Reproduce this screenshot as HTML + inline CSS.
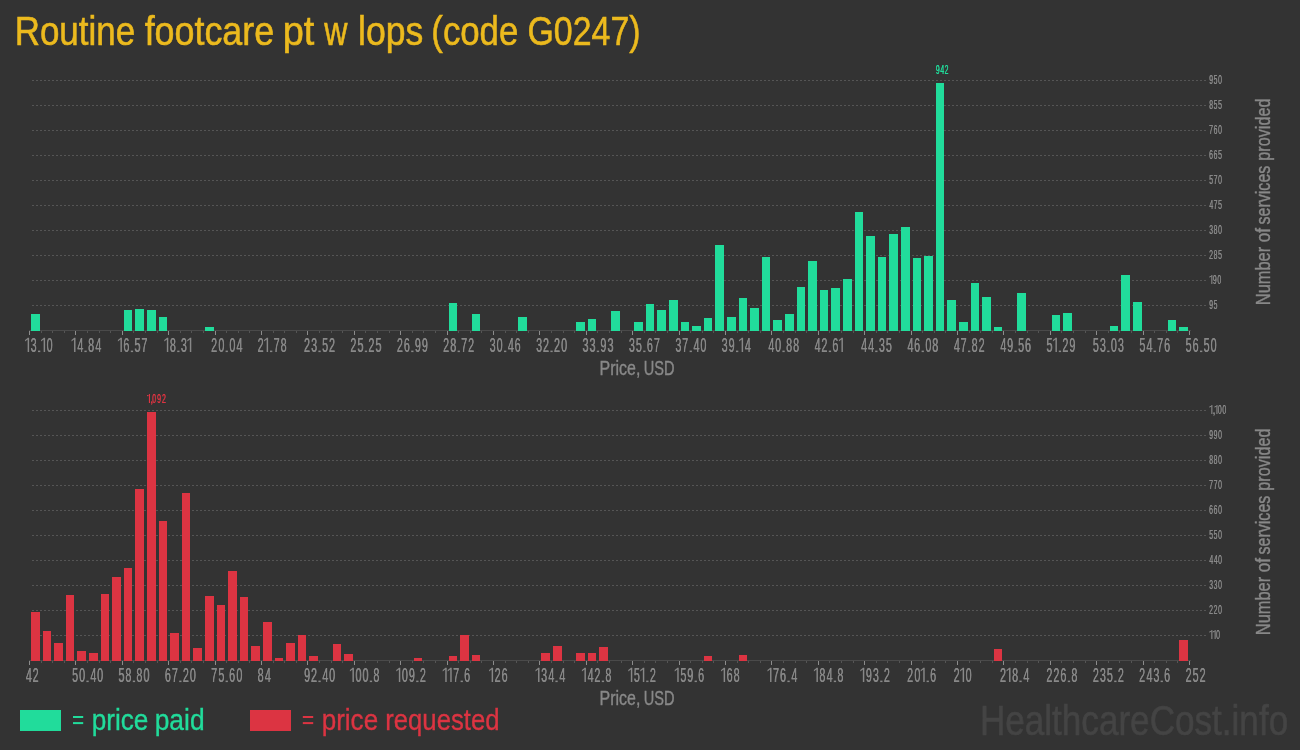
<!DOCTYPE html>
<html><head><meta charset="utf-8"><style>
html,body{margin:0;padding:0;background:#333333;width:1300px;height:750px;overflow:hidden}
svg{display:block;will-change:transform}
text{font-family:"Liberation Sans",sans-serif}
</style></head><body>
<svg width="1300" height="750" viewBox="0 0 1300 750">
<rect width="1300" height="750" fill="#333333"/>
<text x="14.70" y="45" font-size="41.5" fill="#ECBA1E" textLength="120.46" lengthAdjust="spacingAndGlyphs" stroke="#ECBA1E" stroke-width="0.6">Routine</text><text x="144.66" y="45" font-size="41.5" fill="#ECBA1E" textLength="129.39" lengthAdjust="spacingAndGlyphs" stroke="#ECBA1E" stroke-width="0.6">footcare</text><text x="282.74" y="45" font-size="41.5" fill="#ECBA1E" textLength="31.60" lengthAdjust="spacingAndGlyphs" stroke="#ECBA1E" stroke-width="0.6">pt</text><text x="324.30" y="45" font-size="41.5" fill="#ECBA1E" textLength="23.21" lengthAdjust="spacingAndGlyphs" stroke="#ECBA1E" stroke-width="0.6">w</text><text x="357.99" y="45" font-size="41.5" fill="#ECBA1E" textLength="65.24" lengthAdjust="spacingAndGlyphs" stroke="#ECBA1E" stroke-width="0.6">lops</text><text x="431.31" y="45" font-size="41.5" fill="#ECBA1E" textLength="87.00" lengthAdjust="spacingAndGlyphs" stroke="#ECBA1E" stroke-width="0.6">(code</text><text x="527.51" y="45" font-size="41.5" fill="#ECBA1E" textLength="113.04" lengthAdjust="spacingAndGlyphs" stroke="#ECBA1E" stroke-width="0.6">G0247)</text>
<line x1="32" y1="80.5" x2="1206" y2="80.5" stroke="#555" stroke-width="1" stroke-dasharray="2 2"/>
<line x1="32" y1="105.5" x2="1206" y2="105.5" stroke="#555" stroke-width="1" stroke-dasharray="2 2"/>
<line x1="32" y1="130.5" x2="1206" y2="130.5" stroke="#555" stroke-width="1" stroke-dasharray="2 2"/>
<line x1="32" y1="155.5" x2="1206" y2="155.5" stroke="#555" stroke-width="1" stroke-dasharray="2 2"/>
<line x1="32" y1="180.5" x2="1206" y2="180.5" stroke="#555" stroke-width="1" stroke-dasharray="2 2"/>
<line x1="32" y1="205.5" x2="1206" y2="205.5" stroke="#555" stroke-width="1" stroke-dasharray="2 2"/>
<line x1="32" y1="230.5" x2="1206" y2="230.5" stroke="#555" stroke-width="1" stroke-dasharray="2 2"/>
<line x1="32" y1="255.5" x2="1206" y2="255.5" stroke="#555" stroke-width="1" stroke-dasharray="2 2"/>
<line x1="32" y1="280.5" x2="1206" y2="280.5" stroke="#555" stroke-width="1" stroke-dasharray="2 2"/>
<line x1="32" y1="305.5" x2="1206" y2="305.5" stroke="#555" stroke-width="1" stroke-dasharray="2 2"/>
<text transform="translate(1209.09 84.1) scale(0.53 1)" font-size="13.0" fill="#888888">9</text><text transform="translate(1209.39 84.1) scale(0.53 1)" font-size="13.0" fill="#888888">9</text><text transform="translate(1213.57 84.1) scale(0.53 1)" font-size="13.0" fill="#888888">5</text><text transform="translate(1213.87 84.1) scale(0.53 1)" font-size="13.0" fill="#888888">5</text><text transform="translate(1218.02 84.1) scale(0.53 1)" font-size="13.0" fill="#888888">0</text><text transform="translate(1218.32 84.1) scale(0.53 1)" font-size="13.0" fill="#888888">0</text>
<text transform="translate(1209.09 109.1) scale(0.53 1)" font-size="13.0" fill="#888888">8</text><text transform="translate(1209.39 109.1) scale(0.53 1)" font-size="13.0" fill="#888888">8</text><text transform="translate(1213.57 109.1) scale(0.53 1)" font-size="13.0" fill="#888888">5</text><text transform="translate(1213.87 109.1) scale(0.53 1)" font-size="13.0" fill="#888888">5</text><text transform="translate(1218.02 109.1) scale(0.53 1)" font-size="13.0" fill="#888888">5</text><text transform="translate(1218.32 109.1) scale(0.53 1)" font-size="13.0" fill="#888888">5</text>
<text transform="translate(1209.06 134.1) scale(0.53 1)" font-size="13.0" fill="#888888">7</text><text transform="translate(1209.36 134.1) scale(0.53 1)" font-size="13.0" fill="#888888">7</text><text transform="translate(1213.51 134.1) scale(0.53 1)" font-size="13.0" fill="#888888">6</text><text transform="translate(1213.81 134.1) scale(0.53 1)" font-size="13.0" fill="#888888">6</text><text transform="translate(1218.02 134.1) scale(0.53 1)" font-size="13.0" fill="#888888">0</text><text transform="translate(1218.32 134.1) scale(0.53 1)" font-size="13.0" fill="#888888">0</text>
<text transform="translate(1209.06 159.1) scale(0.53 1)" font-size="13.0" fill="#888888">6</text><text transform="translate(1209.36 159.1) scale(0.53 1)" font-size="13.0" fill="#888888">6</text><text transform="translate(1213.51 159.1) scale(0.53 1)" font-size="13.0" fill="#888888">6</text><text transform="translate(1213.81 159.1) scale(0.53 1)" font-size="13.0" fill="#888888">6</text><text transform="translate(1218.02 159.1) scale(0.53 1)" font-size="13.0" fill="#888888">5</text><text transform="translate(1218.32 159.1) scale(0.53 1)" font-size="13.0" fill="#888888">5</text>
<text transform="translate(1209.12 184.1) scale(0.53 1)" font-size="13.0" fill="#888888">5</text><text transform="translate(1209.42 184.1) scale(0.53 1)" font-size="13.0" fill="#888888">5</text><text transform="translate(1213.51 184.1) scale(0.53 1)" font-size="13.0" fill="#888888">7</text><text transform="translate(1213.81 184.1) scale(0.53 1)" font-size="13.0" fill="#888888">7</text><text transform="translate(1218.02 184.1) scale(0.53 1)" font-size="13.0" fill="#888888">0</text><text transform="translate(1218.32 184.1) scale(0.53 1)" font-size="13.0" fill="#888888">0</text>
<text transform="translate(1209.23 209.1) scale(0.53 1)" font-size="13.0" fill="#888888">4</text><text transform="translate(1209.53 209.1) scale(0.53 1)" font-size="13.0" fill="#888888">4</text><text transform="translate(1213.51 209.1) scale(0.53 1)" font-size="13.0" fill="#888888">7</text><text transform="translate(1213.81 209.1) scale(0.53 1)" font-size="13.0" fill="#888888">7</text><text transform="translate(1218.02 209.1) scale(0.53 1)" font-size="13.0" fill="#888888">5</text><text transform="translate(1218.32 209.1) scale(0.53 1)" font-size="13.0" fill="#888888">5</text>
<text transform="translate(1209.12 234.1) scale(0.53 1)" font-size="13.0" fill="#888888">3</text><text transform="translate(1209.42 234.1) scale(0.53 1)" font-size="13.0" fill="#888888">3</text><text transform="translate(1213.54 234.1) scale(0.53 1)" font-size="13.0" fill="#888888">8</text><text transform="translate(1213.84 234.1) scale(0.53 1)" font-size="13.0" fill="#888888">8</text><text transform="translate(1218.02 234.1) scale(0.53 1)" font-size="13.0" fill="#888888">0</text><text transform="translate(1218.32 234.1) scale(0.53 1)" font-size="13.0" fill="#888888">0</text>
<text transform="translate(1209.06 259.1) scale(0.53 1)" font-size="13.0" fill="#888888">2</text><text transform="translate(1209.36 259.1) scale(0.53 1)" font-size="13.0" fill="#888888">2</text><text transform="translate(1213.54 259.1) scale(0.53 1)" font-size="13.0" fill="#888888">8</text><text transform="translate(1213.84 259.1) scale(0.53 1)" font-size="13.0" fill="#888888">8</text><text transform="translate(1218.02 259.1) scale(0.53 1)" font-size="13.0" fill="#888888">5</text><text transform="translate(1218.32 259.1) scale(0.53 1)" font-size="13.0" fill="#888888">5</text>
<path d="M1211.30 275.10H1212.40V284.1H1211.30ZM1209.40 276.50L1211.60 275.10V276.30L1209.40 277.70Z" fill="#888888"/><text transform="translate(1212.69 284.1) scale(0.53 1)" font-size="13.0" fill="#888888">9</text><text transform="translate(1212.99 284.1) scale(0.53 1)" font-size="13.0" fill="#888888">9</text><text transform="translate(1217.17 284.1) scale(0.53 1)" font-size="13.0" fill="#888888">0</text><text transform="translate(1217.47 284.1) scale(0.53 1)" font-size="13.0" fill="#888888">0</text>
<text transform="translate(1209.09 309.1) scale(0.53 1)" font-size="13.0" fill="#888888">9</text><text transform="translate(1209.39 309.1) scale(0.53 1)" font-size="13.0" fill="#888888">9</text><text transform="translate(1213.57 309.1) scale(0.53 1)" font-size="13.0" fill="#888888">5</text><text transform="translate(1213.87 309.1) scale(0.53 1)" font-size="13.0" fill="#888888">5</text>
<rect x="29" y="330" width="1162" height="1" fill="#4a4a4a"/>
<rect x="29" y="331" width="1" height="4" fill="#8c8c8c"/>
<rect x="41" y="331" width="1" height="2" fill="#555"/>
<rect x="52" y="331" width="1" height="2" fill="#555"/>
<rect x="64" y="331" width="1" height="2" fill="#555"/>
<rect x="75" y="331" width="1" height="4" fill="#8c8c8c"/>
<rect x="87" y="331" width="1" height="2" fill="#555"/>
<rect x="99" y="331" width="1" height="2" fill="#555"/>
<rect x="110" y="331" width="1" height="2" fill="#555"/>
<rect x="122" y="331" width="1" height="4" fill="#8c8c8c"/>
<rect x="133" y="331" width="1" height="2" fill="#555"/>
<rect x="145" y="331" width="1" height="2" fill="#555"/>
<rect x="157" y="331" width="1" height="2" fill="#555"/>
<rect x="168" y="331" width="1" height="4" fill="#8c8c8c"/>
<rect x="180" y="331" width="1" height="2" fill="#555"/>
<rect x="191" y="331" width="1" height="2" fill="#555"/>
<rect x="203" y="331" width="1" height="2" fill="#555"/>
<rect x="215" y="331" width="1" height="4" fill="#8c8c8c"/>
<rect x="226" y="331" width="1" height="2" fill="#555"/>
<rect x="238" y="331" width="1" height="2" fill="#555"/>
<rect x="249" y="331" width="1" height="2" fill="#555"/>
<rect x="261" y="331" width="1" height="4" fill="#8c8c8c"/>
<rect x="273" y="331" width="1" height="2" fill="#555"/>
<rect x="284" y="331" width="1" height="2" fill="#555"/>
<rect x="296" y="331" width="1" height="2" fill="#555"/>
<rect x="307" y="331" width="1" height="4" fill="#8c8c8c"/>
<rect x="319" y="331" width="1" height="2" fill="#555"/>
<rect x="331" y="331" width="1" height="2" fill="#555"/>
<rect x="342" y="331" width="1" height="2" fill="#555"/>
<rect x="354" y="331" width="1" height="4" fill="#8c8c8c"/>
<rect x="365" y="331" width="1" height="2" fill="#555"/>
<rect x="377" y="331" width="1" height="2" fill="#555"/>
<rect x="389" y="331" width="1" height="2" fill="#555"/>
<rect x="400" y="331" width="1" height="4" fill="#8c8c8c"/>
<rect x="412" y="331" width="1" height="2" fill="#555"/>
<rect x="423" y="331" width="1" height="2" fill="#555"/>
<rect x="435" y="331" width="1" height="2" fill="#555"/>
<rect x="447" y="331" width="1" height="4" fill="#8c8c8c"/>
<rect x="458" y="331" width="1" height="2" fill="#555"/>
<rect x="470" y="331" width="1" height="2" fill="#555"/>
<rect x="481" y="331" width="1" height="2" fill="#555"/>
<rect x="493" y="331" width="1" height="4" fill="#8c8c8c"/>
<rect x="505" y="331" width="1" height="2" fill="#555"/>
<rect x="516" y="331" width="1" height="2" fill="#555"/>
<rect x="528" y="331" width="1" height="2" fill="#555"/>
<rect x="539" y="331" width="1" height="4" fill="#8c8c8c"/>
<rect x="551" y="331" width="1" height="2" fill="#555"/>
<rect x="563" y="331" width="1" height="2" fill="#555"/>
<rect x="574" y="331" width="1" height="2" fill="#555"/>
<rect x="586" y="331" width="1" height="4" fill="#8c8c8c"/>
<rect x="597" y="331" width="1" height="2" fill="#555"/>
<rect x="609" y="331" width="1" height="2" fill="#555"/>
<rect x="621" y="331" width="1" height="2" fill="#555"/>
<rect x="632" y="331" width="1" height="4" fill="#8c8c8c"/>
<rect x="644" y="331" width="1" height="2" fill="#555"/>
<rect x="655" y="331" width="1" height="2" fill="#555"/>
<rect x="667" y="331" width="1" height="2" fill="#555"/>
<rect x="679" y="331" width="1" height="4" fill="#8c8c8c"/>
<rect x="690" y="331" width="1" height="2" fill="#555"/>
<rect x="702" y="331" width="1" height="2" fill="#555"/>
<rect x="713" y="331" width="1" height="2" fill="#555"/>
<rect x="725" y="331" width="1" height="4" fill="#8c8c8c"/>
<rect x="737" y="331" width="1" height="2" fill="#555"/>
<rect x="748" y="331" width="1" height="2" fill="#555"/>
<rect x="760" y="331" width="1" height="2" fill="#555"/>
<rect x="771" y="331" width="1" height="4" fill="#8c8c8c"/>
<rect x="783" y="331" width="1" height="2" fill="#555"/>
<rect x="795" y="331" width="1" height="2" fill="#555"/>
<rect x="806" y="331" width="1" height="2" fill="#555"/>
<rect x="818" y="331" width="1" height="4" fill="#8c8c8c"/>
<rect x="829" y="331" width="1" height="2" fill="#555"/>
<rect x="841" y="331" width="1" height="2" fill="#555"/>
<rect x="853" y="331" width="1" height="2" fill="#555"/>
<rect x="864" y="331" width="1" height="4" fill="#8c8c8c"/>
<rect x="876" y="331" width="1" height="2" fill="#555"/>
<rect x="887" y="331" width="1" height="2" fill="#555"/>
<rect x="899" y="331" width="1" height="2" fill="#555"/>
<rect x="911" y="331" width="1" height="4" fill="#8c8c8c"/>
<rect x="922" y="331" width="1" height="2" fill="#555"/>
<rect x="934" y="331" width="1" height="2" fill="#555"/>
<rect x="945" y="331" width="1" height="2" fill="#555"/>
<rect x="957" y="331" width="1" height="4" fill="#8c8c8c"/>
<rect x="969" y="331" width="1" height="2" fill="#555"/>
<rect x="980" y="331" width="1" height="2" fill="#555"/>
<rect x="992" y="331" width="1" height="2" fill="#555"/>
<rect x="1003" y="331" width="1" height="4" fill="#8c8c8c"/>
<rect x="1015" y="331" width="1" height="2" fill="#555"/>
<rect x="1027" y="331" width="1" height="2" fill="#555"/>
<rect x="1038" y="331" width="1" height="2" fill="#555"/>
<rect x="1050" y="331" width="1" height="4" fill="#8c8c8c"/>
<rect x="1061" y="331" width="1" height="2" fill="#555"/>
<rect x="1073" y="331" width="1" height="2" fill="#555"/>
<rect x="1085" y="331" width="1" height="2" fill="#555"/>
<rect x="1096" y="331" width="1" height="4" fill="#8c8c8c"/>
<rect x="1108" y="331" width="1" height="2" fill="#555"/>
<rect x="1119" y="331" width="1" height="2" fill="#555"/>
<rect x="1131" y="331" width="1" height="2" fill="#555"/>
<rect x="1143" y="331" width="1" height="4" fill="#8c8c8c"/>
<rect x="1154" y="331" width="1" height="2" fill="#555"/>
<rect x="1166" y="331" width="1" height="2" fill="#555"/>
<rect x="1177" y="331" width="1" height="2" fill="#555"/>
<rect x="1189" y="331" width="1" height="4" fill="#8c8c8c"/>
<rect x="31" y="314" width="9" height="17" fill="#21DC9B"/>
<rect x="124" y="310" width="8" height="21" fill="#21DC9B"/>
<rect x="135" y="309" width="9" height="22" fill="#21DC9B"/>
<rect x="147" y="310" width="9" height="21" fill="#21DC9B"/>
<rect x="159" y="317" width="8" height="14" fill="#21DC9B"/>
<rect x="205" y="327" width="9" height="4" fill="#21DC9B"/>
<rect x="449" y="303" width="8" height="28" fill="#21DC9B"/>
<rect x="472" y="314" width="8" height="17" fill="#21DC9B"/>
<rect x="518" y="317" width="9" height="14" fill="#21DC9B"/>
<rect x="576" y="322" width="9" height="9" fill="#21DC9B"/>
<rect x="588" y="319" width="8" height="12" fill="#21DC9B"/>
<rect x="611" y="311" width="9" height="20" fill="#21DC9B"/>
<rect x="634" y="322" width="9" height="9" fill="#21DC9B"/>
<rect x="646" y="304" width="8" height="27" fill="#21DC9B"/>
<rect x="657" y="310" width="9" height="21" fill="#21DC9B"/>
<rect x="669" y="300" width="9" height="31" fill="#21DC9B"/>
<rect x="681" y="322" width="8" height="9" fill="#21DC9B"/>
<rect x="692" y="326" width="9" height="5" fill="#21DC9B"/>
<rect x="704" y="318" width="8" height="13" fill="#21DC9B"/>
<rect x="715" y="245" width="9" height="86" fill="#21DC9B"/>
<rect x="727" y="317" width="9" height="14" fill="#21DC9B"/>
<rect x="739" y="298" width="8" height="33" fill="#21DC9B"/>
<rect x="750" y="308" width="9" height="23" fill="#21DC9B"/>
<rect x="762" y="257" width="8" height="74" fill="#21DC9B"/>
<rect x="773" y="320" width="9" height="11" fill="#21DC9B"/>
<rect x="785" y="314" width="9" height="17" fill="#21DC9B"/>
<rect x="797" y="287" width="8" height="44" fill="#21DC9B"/>
<rect x="808" y="261" width="9" height="70" fill="#21DC9B"/>
<rect x="820" y="290" width="8" height="41" fill="#21DC9B"/>
<rect x="831" y="288" width="9" height="43" fill="#21DC9B"/>
<rect x="843" y="279" width="9" height="52" fill="#21DC9B"/>
<rect x="855" y="212" width="8" height="119" fill="#21DC9B"/>
<rect x="866" y="236" width="9" height="95" fill="#21DC9B"/>
<rect x="878" y="257" width="8" height="74" fill="#21DC9B"/>
<rect x="889" y="234" width="9" height="97" fill="#21DC9B"/>
<rect x="901" y="227" width="9" height="104" fill="#21DC9B"/>
<rect x="913" y="258" width="8" height="73" fill="#21DC9B"/>
<rect x="924" y="256" width="9" height="75" fill="#21DC9B"/>
<rect x="936" y="83" width="8" height="248" fill="#21DC9B"/>
<rect x="947" y="300" width="9" height="31" fill="#21DC9B"/>
<rect x="959" y="322" width="9" height="9" fill="#21DC9B"/>
<rect x="971" y="283" width="8" height="48" fill="#21DC9B"/>
<rect x="982" y="297" width="9" height="34" fill="#21DC9B"/>
<rect x="994" y="327" width="8" height="4" fill="#21DC9B"/>
<rect x="1017" y="293" width="9" height="38" fill="#21DC9B"/>
<rect x="1052" y="315" width="8" height="16" fill="#21DC9B"/>
<rect x="1063" y="313" width="9" height="18" fill="#21DC9B"/>
<rect x="1110" y="326" width="8" height="5" fill="#21DC9B"/>
<rect x="1121" y="275" width="9" height="56" fill="#21DC9B"/>
<rect x="1133" y="302" width="9" height="29" fill="#21DC9B"/>
<rect x="1168" y="320" width="8" height="11" fill="#21DC9B"/>
<rect x="1179" y="327" width="9" height="4" fill="#21DC9B"/>
<path d="M27.65 337.80H29.10V352.1H27.65ZM25.10 340.00L27.95 337.80V339.30L25.10 341.50Z" fill="#888888"/><text transform="translate(30.57 352.1) scale(0.53 1)" font-size="20.4" fill="#888888">3</text><text transform="translate(30.87 352.1) scale(0.53 1)" font-size="20.4" fill="#888888">3</text><rect x="38.00" y="350.60" width="2.3" height="1.5" fill="#888888"/><path d="M43.65 337.80H45.10V352.1H43.65ZM41.10 340.00L43.95 337.80V339.30L41.10 341.50Z" fill="#888888"/><text transform="translate(46.57 352.1) scale(0.53 1)" font-size="20.4" fill="#888888">0</text><text transform="translate(46.87 352.1) scale(0.53 1)" font-size="20.4" fill="#888888">0</text>
<path d="M74.05 337.80H75.50V352.1H74.05ZM71.50 340.00L74.35 337.80V339.30L71.50 341.50Z" fill="#888888"/><text transform="translate(77.13 352.1) scale(0.53 1)" font-size="20.4" fill="#888888">4</text><text transform="translate(77.43 352.1) scale(0.53 1)" font-size="20.4" fill="#888888">4</text><rect x="84.40" y="350.60" width="2.3" height="1.5" fill="#888888"/><text transform="translate(87.91 352.1) scale(0.53 1)" font-size="20.4" fill="#888888">8</text><text transform="translate(88.21 352.1) scale(0.53 1)" font-size="20.4" fill="#888888">8</text><text transform="translate(95.13 352.1) scale(0.53 1)" font-size="20.4" fill="#888888">4</text><text transform="translate(95.43 352.1) scale(0.53 1)" font-size="20.4" fill="#888888">4</text>
<path d="M120.45 337.80H121.90V352.1H120.45ZM117.90 340.00L120.75 337.80V339.30L117.90 341.50Z" fill="#888888"/><text transform="translate(123.26 352.1) scale(0.53 1)" font-size="20.4" fill="#888888">6</text><text transform="translate(123.56 352.1) scale(0.53 1)" font-size="20.4" fill="#888888">6</text><rect x="130.80" y="350.60" width="2.3" height="1.5" fill="#888888"/><text transform="translate(134.37 352.1) scale(0.53 1)" font-size="20.4" fill="#888888">5</text><text transform="translate(134.67 352.1) scale(0.53 1)" font-size="20.4" fill="#888888">5</text><text transform="translate(141.26 352.1) scale(0.53 1)" font-size="20.4" fill="#888888">7</text><text transform="translate(141.56 352.1) scale(0.53 1)" font-size="20.4" fill="#888888">7</text>
<path d="M166.85 337.80H168.30V352.1H166.85ZM164.30 340.00L167.15 337.80V339.30L164.30 341.50Z" fill="#888888"/><text transform="translate(169.71 352.1) scale(0.53 1)" font-size="20.4" fill="#888888">8</text><text transform="translate(170.01 352.1) scale(0.53 1)" font-size="20.4" fill="#888888">8</text><rect x="177.20" y="350.60" width="2.3" height="1.5" fill="#888888"/><text transform="translate(180.77 352.1) scale(0.53 1)" font-size="20.4" fill="#888888">3</text><text transform="translate(181.07 352.1) scale(0.53 1)" font-size="20.4" fill="#888888">3</text><path d="M189.85 337.80H191.30V352.1H189.85ZM187.30 340.00L190.15 337.80V339.30L187.30 341.50Z" fill="#888888"/>
<text transform="translate(211.06 352.1) scale(0.53 1)" font-size="20.4" fill="#888888">2</text><text transform="translate(211.36 352.1) scale(0.53 1)" font-size="20.4" fill="#888888">2</text><text transform="translate(218.17 352.1) scale(0.53 1)" font-size="20.4" fill="#888888">0</text><text transform="translate(218.47 352.1) scale(0.53 1)" font-size="20.4" fill="#888888">0</text><rect x="225.60" y="350.60" width="2.3" height="1.5" fill="#888888"/><text transform="translate(229.17 352.1) scale(0.53 1)" font-size="20.4" fill="#888888">0</text><text transform="translate(229.47 352.1) scale(0.53 1)" font-size="20.4" fill="#888888">0</text><text transform="translate(236.33 352.1) scale(0.53 1)" font-size="20.4" fill="#888888">4</text><text transform="translate(236.63 352.1) scale(0.53 1)" font-size="20.4" fill="#888888">4</text>
<text transform="translate(257.46 352.1) scale(0.53 1)" font-size="20.4" fill="#888888">2</text><text transform="translate(257.76 352.1) scale(0.53 1)" font-size="20.4" fill="#888888">2</text><path d="M266.65 337.80H268.10V352.1H266.65ZM264.10 340.00L266.95 337.80V339.30L264.10 341.50Z" fill="#888888"/><rect x="270.00" y="350.60" width="2.3" height="1.5" fill="#888888"/><text transform="translate(273.46 352.1) scale(0.53 1)" font-size="20.4" fill="#888888">7</text><text transform="translate(273.76 352.1) scale(0.53 1)" font-size="20.4" fill="#888888">7</text><text transform="translate(280.51 352.1) scale(0.53 1)" font-size="20.4" fill="#888888">8</text><text transform="translate(280.81 352.1) scale(0.53 1)" font-size="20.4" fill="#888888">8</text>
<text transform="translate(303.86 352.1) scale(0.53 1)" font-size="20.4" fill="#888888">2</text><text transform="translate(304.16 352.1) scale(0.53 1)" font-size="20.4" fill="#888888">2</text><text transform="translate(310.97 352.1) scale(0.53 1)" font-size="20.4" fill="#888888">3</text><text transform="translate(311.27 352.1) scale(0.53 1)" font-size="20.4" fill="#888888">3</text><rect x="318.40" y="350.60" width="2.3" height="1.5" fill="#888888"/><text transform="translate(321.97 352.1) scale(0.53 1)" font-size="20.4" fill="#888888">5</text><text transform="translate(322.27 352.1) scale(0.53 1)" font-size="20.4" fill="#888888">5</text><text transform="translate(328.86 352.1) scale(0.53 1)" font-size="20.4" fill="#888888">2</text><text transform="translate(329.16 352.1) scale(0.53 1)" font-size="20.4" fill="#888888">2</text>
<text transform="translate(350.26 352.1) scale(0.53 1)" font-size="20.4" fill="#888888">2</text><text transform="translate(350.56 352.1) scale(0.53 1)" font-size="20.4" fill="#888888">2</text><text transform="translate(357.37 352.1) scale(0.53 1)" font-size="20.4" fill="#888888">5</text><text transform="translate(357.67 352.1) scale(0.53 1)" font-size="20.4" fill="#888888">5</text><rect x="364.80" y="350.60" width="2.3" height="1.5" fill="#888888"/><text transform="translate(368.26 352.1) scale(0.53 1)" font-size="20.4" fill="#888888">2</text><text transform="translate(368.56 352.1) scale(0.53 1)" font-size="20.4" fill="#888888">2</text><text transform="translate(375.37 352.1) scale(0.53 1)" font-size="20.4" fill="#888888">5</text><text transform="translate(375.67 352.1) scale(0.53 1)" font-size="20.4" fill="#888888">5</text>
<text transform="translate(396.66 352.1) scale(0.53 1)" font-size="20.4" fill="#888888">2</text><text transform="translate(396.96 352.1) scale(0.53 1)" font-size="20.4" fill="#888888">2</text><text transform="translate(403.66 352.1) scale(0.53 1)" font-size="20.4" fill="#888888">6</text><text transform="translate(403.96 352.1) scale(0.53 1)" font-size="20.4" fill="#888888">6</text><rect x="411.20" y="350.60" width="2.3" height="1.5" fill="#888888"/><text transform="translate(414.71 352.1) scale(0.53 1)" font-size="20.4" fill="#888888">9</text><text transform="translate(415.01 352.1) scale(0.53 1)" font-size="20.4" fill="#888888">9</text><text transform="translate(421.71 352.1) scale(0.53 1)" font-size="20.4" fill="#888888">9</text><text transform="translate(422.01 352.1) scale(0.53 1)" font-size="20.4" fill="#888888">9</text>
<text transform="translate(443.06 352.1) scale(0.53 1)" font-size="20.4" fill="#888888">2</text><text transform="translate(443.36 352.1) scale(0.53 1)" font-size="20.4" fill="#888888">2</text><text transform="translate(450.11 352.1) scale(0.53 1)" font-size="20.4" fill="#888888">8</text><text transform="translate(450.41 352.1) scale(0.53 1)" font-size="20.4" fill="#888888">8</text><rect x="457.60" y="350.60" width="2.3" height="1.5" fill="#888888"/><text transform="translate(461.06 352.1) scale(0.53 1)" font-size="20.4" fill="#888888">7</text><text transform="translate(461.36 352.1) scale(0.53 1)" font-size="20.4" fill="#888888">7</text><text transform="translate(468.06 352.1) scale(0.53 1)" font-size="20.4" fill="#888888">2</text><text transform="translate(468.36 352.1) scale(0.53 1)" font-size="20.4" fill="#888888">2</text>
<text transform="translate(489.57 352.1) scale(0.53 1)" font-size="20.4" fill="#888888">3</text><text transform="translate(489.87 352.1) scale(0.53 1)" font-size="20.4" fill="#888888">3</text><text transform="translate(496.57 352.1) scale(0.53 1)" font-size="20.4" fill="#888888">0</text><text transform="translate(496.87 352.1) scale(0.53 1)" font-size="20.4" fill="#888888">0</text><rect x="504.00" y="350.60" width="2.3" height="1.5" fill="#888888"/><text transform="translate(507.73 352.1) scale(0.53 1)" font-size="20.4" fill="#888888">4</text><text transform="translate(508.03 352.1) scale(0.53 1)" font-size="20.4" fill="#888888">4</text><text transform="translate(514.46 352.1) scale(0.53 1)" font-size="20.4" fill="#888888">6</text><text transform="translate(514.76 352.1) scale(0.53 1)" font-size="20.4" fill="#888888">6</text>
<text transform="translate(535.97 352.1) scale(0.53 1)" font-size="20.4" fill="#888888">3</text><text transform="translate(536.27 352.1) scale(0.53 1)" font-size="20.4" fill="#888888">3</text><text transform="translate(542.86 352.1) scale(0.53 1)" font-size="20.4" fill="#888888">2</text><text transform="translate(543.16 352.1) scale(0.53 1)" font-size="20.4" fill="#888888">2</text><rect x="550.40" y="350.60" width="2.3" height="1.5" fill="#888888"/><text transform="translate(553.86 352.1) scale(0.53 1)" font-size="20.4" fill="#888888">2</text><text transform="translate(554.16 352.1) scale(0.53 1)" font-size="20.4" fill="#888888">2</text><text transform="translate(560.97 352.1) scale(0.53 1)" font-size="20.4" fill="#888888">0</text><text transform="translate(561.27 352.1) scale(0.53 1)" font-size="20.4" fill="#888888">0</text>
<text transform="translate(582.37 352.1) scale(0.53 1)" font-size="20.4" fill="#888888">3</text><text transform="translate(582.67 352.1) scale(0.53 1)" font-size="20.4" fill="#888888">3</text><text transform="translate(589.37 352.1) scale(0.53 1)" font-size="20.4" fill="#888888">3</text><text transform="translate(589.67 352.1) scale(0.53 1)" font-size="20.4" fill="#888888">3</text><rect x="596.80" y="350.60" width="2.3" height="1.5" fill="#888888"/><text transform="translate(600.31 352.1) scale(0.53 1)" font-size="20.4" fill="#888888">9</text><text transform="translate(600.61 352.1) scale(0.53 1)" font-size="20.4" fill="#888888">9</text><text transform="translate(607.37 352.1) scale(0.53 1)" font-size="20.4" fill="#888888">3</text><text transform="translate(607.67 352.1) scale(0.53 1)" font-size="20.4" fill="#888888">3</text>
<text transform="translate(628.77 352.1) scale(0.53 1)" font-size="20.4" fill="#888888">3</text><text transform="translate(629.07 352.1) scale(0.53 1)" font-size="20.4" fill="#888888">3</text><text transform="translate(635.77 352.1) scale(0.53 1)" font-size="20.4" fill="#888888">5</text><text transform="translate(636.07 352.1) scale(0.53 1)" font-size="20.4" fill="#888888">5</text><rect x="643.20" y="350.60" width="2.3" height="1.5" fill="#888888"/><text transform="translate(646.66 352.1) scale(0.53 1)" font-size="20.4" fill="#888888">6</text><text transform="translate(646.96 352.1) scale(0.53 1)" font-size="20.4" fill="#888888">6</text><text transform="translate(653.66 352.1) scale(0.53 1)" font-size="20.4" fill="#888888">7</text><text transform="translate(653.96 352.1) scale(0.53 1)" font-size="20.4" fill="#888888">7</text>
<text transform="translate(675.17 352.1) scale(0.53 1)" font-size="20.4" fill="#888888">3</text><text transform="translate(675.47 352.1) scale(0.53 1)" font-size="20.4" fill="#888888">3</text><text transform="translate(682.06 352.1) scale(0.53 1)" font-size="20.4" fill="#888888">7</text><text transform="translate(682.36 352.1) scale(0.53 1)" font-size="20.4" fill="#888888">7</text><rect x="689.60" y="350.60" width="2.3" height="1.5" fill="#888888"/><text transform="translate(693.33 352.1) scale(0.53 1)" font-size="20.4" fill="#888888">4</text><text transform="translate(693.63 352.1) scale(0.53 1)" font-size="20.4" fill="#888888">4</text><text transform="translate(700.17 352.1) scale(0.53 1)" font-size="20.4" fill="#888888">0</text><text transform="translate(700.47 352.1) scale(0.53 1)" font-size="20.4" fill="#888888">0</text>
<text transform="translate(721.57 352.1) scale(0.53 1)" font-size="20.4" fill="#888888">3</text><text transform="translate(721.87 352.1) scale(0.53 1)" font-size="20.4" fill="#888888">3</text><text transform="translate(728.51 352.1) scale(0.53 1)" font-size="20.4" fill="#888888">9</text><text transform="translate(728.81 352.1) scale(0.53 1)" font-size="20.4" fill="#888888">9</text><rect x="736.00" y="350.60" width="2.3" height="1.5" fill="#888888"/><path d="M741.65 337.80H743.10V352.1H741.65ZM739.10 340.00L741.95 337.80V339.30L739.10 341.50Z" fill="#888888"/><text transform="translate(744.73 352.1) scale(0.53 1)" font-size="20.4" fill="#888888">4</text><text transform="translate(745.03 352.1) scale(0.53 1)" font-size="20.4" fill="#888888">4</text>
<text transform="translate(768.13 352.1) scale(0.53 1)" font-size="20.4" fill="#888888">4</text><text transform="translate(768.43 352.1) scale(0.53 1)" font-size="20.4" fill="#888888">4</text><text transform="translate(774.97 352.1) scale(0.53 1)" font-size="20.4" fill="#888888">0</text><text transform="translate(775.27 352.1) scale(0.53 1)" font-size="20.4" fill="#888888">0</text><rect x="782.40" y="350.60" width="2.3" height="1.5" fill="#888888"/><text transform="translate(785.91 352.1) scale(0.53 1)" font-size="20.4" fill="#888888">8</text><text transform="translate(786.21 352.1) scale(0.53 1)" font-size="20.4" fill="#888888">8</text><text transform="translate(792.91 352.1) scale(0.53 1)" font-size="20.4" fill="#888888">8</text><text transform="translate(793.21 352.1) scale(0.53 1)" font-size="20.4" fill="#888888">8</text>
<text transform="translate(814.53 352.1) scale(0.53 1)" font-size="20.4" fill="#888888">4</text><text transform="translate(814.83 352.1) scale(0.53 1)" font-size="20.4" fill="#888888">4</text><text transform="translate(821.26 352.1) scale(0.53 1)" font-size="20.4" fill="#888888">2</text><text transform="translate(821.56 352.1) scale(0.53 1)" font-size="20.4" fill="#888888">2</text><rect x="828.80" y="350.60" width="2.3" height="1.5" fill="#888888"/><text transform="translate(832.26 352.1) scale(0.53 1)" font-size="20.4" fill="#888888">6</text><text transform="translate(832.56 352.1) scale(0.53 1)" font-size="20.4" fill="#888888">6</text><path d="M841.45 337.80H842.90V352.1H841.45ZM838.90 340.00L841.75 337.80V339.30L838.90 341.50Z" fill="#888888"/>
<text transform="translate(860.93 352.1) scale(0.53 1)" font-size="20.4" fill="#888888">4</text><text transform="translate(861.23 352.1) scale(0.53 1)" font-size="20.4" fill="#888888">4</text><text transform="translate(867.93 352.1) scale(0.53 1)" font-size="20.4" fill="#888888">4</text><text transform="translate(868.23 352.1) scale(0.53 1)" font-size="20.4" fill="#888888">4</text><rect x="875.20" y="350.60" width="2.3" height="1.5" fill="#888888"/><text transform="translate(878.77 352.1) scale(0.53 1)" font-size="20.4" fill="#888888">3</text><text transform="translate(879.07 352.1) scale(0.53 1)" font-size="20.4" fill="#888888">3</text><text transform="translate(885.77 352.1) scale(0.53 1)" font-size="20.4" fill="#888888">5</text><text transform="translate(886.07 352.1) scale(0.53 1)" font-size="20.4" fill="#888888">5</text>
<text transform="translate(907.33 352.1) scale(0.53 1)" font-size="20.4" fill="#888888">4</text><text transform="translate(907.63 352.1) scale(0.53 1)" font-size="20.4" fill="#888888">4</text><text transform="translate(914.06 352.1) scale(0.53 1)" font-size="20.4" fill="#888888">6</text><text transform="translate(914.36 352.1) scale(0.53 1)" font-size="20.4" fill="#888888">6</text><rect x="921.60" y="350.60" width="2.3" height="1.5" fill="#888888"/><text transform="translate(925.17 352.1) scale(0.53 1)" font-size="20.4" fill="#888888">0</text><text transform="translate(925.47 352.1) scale(0.53 1)" font-size="20.4" fill="#888888">0</text><text transform="translate(932.11 352.1) scale(0.53 1)" font-size="20.4" fill="#888888">8</text><text transform="translate(932.41 352.1) scale(0.53 1)" font-size="20.4" fill="#888888">8</text>
<text transform="translate(953.73 352.1) scale(0.53 1)" font-size="20.4" fill="#888888">4</text><text transform="translate(954.03 352.1) scale(0.53 1)" font-size="20.4" fill="#888888">4</text><text transform="translate(960.46 352.1) scale(0.53 1)" font-size="20.4" fill="#888888">7</text><text transform="translate(960.76 352.1) scale(0.53 1)" font-size="20.4" fill="#888888">7</text><rect x="968.00" y="350.60" width="2.3" height="1.5" fill="#888888"/><text transform="translate(971.51 352.1) scale(0.53 1)" font-size="20.4" fill="#888888">8</text><text transform="translate(971.81 352.1) scale(0.53 1)" font-size="20.4" fill="#888888">8</text><text transform="translate(978.46 352.1) scale(0.53 1)" font-size="20.4" fill="#888888">2</text><text transform="translate(978.76 352.1) scale(0.53 1)" font-size="20.4" fill="#888888">2</text>
<text transform="translate(1000.13 352.1) scale(0.53 1)" font-size="20.4" fill="#888888">4</text><text transform="translate(1000.43 352.1) scale(0.53 1)" font-size="20.4" fill="#888888">4</text><text transform="translate(1006.91 352.1) scale(0.53 1)" font-size="20.4" fill="#888888">9</text><text transform="translate(1007.21 352.1) scale(0.53 1)" font-size="20.4" fill="#888888">9</text><rect x="1014.40" y="350.60" width="2.3" height="1.5" fill="#888888"/><text transform="translate(1017.97 352.1) scale(0.53 1)" font-size="20.4" fill="#888888">5</text><text transform="translate(1018.27 352.1) scale(0.53 1)" font-size="20.4" fill="#888888">5</text><text transform="translate(1024.86 352.1) scale(0.53 1)" font-size="20.4" fill="#888888">6</text><text transform="translate(1025.16 352.1) scale(0.53 1)" font-size="20.4" fill="#888888">6</text>
<text transform="translate(1046.37 352.1) scale(0.53 1)" font-size="20.4" fill="#888888">5</text><text transform="translate(1046.67 352.1) scale(0.53 1)" font-size="20.4" fill="#888888">5</text><path d="M1055.45 337.80H1056.90V352.1H1055.45ZM1052.90 340.00L1055.75 337.80V339.30L1052.90 341.50Z" fill="#888888"/><rect x="1058.80" y="350.60" width="2.3" height="1.5" fill="#888888"/><text transform="translate(1062.26 352.1) scale(0.53 1)" font-size="20.4" fill="#888888">2</text><text transform="translate(1062.56 352.1) scale(0.53 1)" font-size="20.4" fill="#888888">2</text><text transform="translate(1069.31 352.1) scale(0.53 1)" font-size="20.4" fill="#888888">9</text><text transform="translate(1069.61 352.1) scale(0.53 1)" font-size="20.4" fill="#888888">9</text>
<text transform="translate(1092.77 352.1) scale(0.53 1)" font-size="20.4" fill="#888888">5</text><text transform="translate(1093.07 352.1) scale(0.53 1)" font-size="20.4" fill="#888888">5</text><text transform="translate(1099.77 352.1) scale(0.53 1)" font-size="20.4" fill="#888888">3</text><text transform="translate(1100.07 352.1) scale(0.53 1)" font-size="20.4" fill="#888888">3</text><rect x="1107.20" y="350.60" width="2.3" height="1.5" fill="#888888"/><text transform="translate(1110.77 352.1) scale(0.53 1)" font-size="20.4" fill="#888888">0</text><text transform="translate(1111.07 352.1) scale(0.53 1)" font-size="20.4" fill="#888888">0</text><text transform="translate(1117.77 352.1) scale(0.53 1)" font-size="20.4" fill="#888888">3</text><text transform="translate(1118.07 352.1) scale(0.53 1)" font-size="20.4" fill="#888888">3</text>
<text transform="translate(1139.17 352.1) scale(0.53 1)" font-size="20.4" fill="#888888">5</text><text transform="translate(1139.47 352.1) scale(0.53 1)" font-size="20.4" fill="#888888">5</text><text transform="translate(1146.33 352.1) scale(0.53 1)" font-size="20.4" fill="#888888">4</text><text transform="translate(1146.63 352.1) scale(0.53 1)" font-size="20.4" fill="#888888">4</text><rect x="1153.60" y="350.60" width="2.3" height="1.5" fill="#888888"/><text transform="translate(1157.06 352.1) scale(0.53 1)" font-size="20.4" fill="#888888">7</text><text transform="translate(1157.36 352.1) scale(0.53 1)" font-size="20.4" fill="#888888">7</text><text transform="translate(1164.06 352.1) scale(0.53 1)" font-size="20.4" fill="#888888">6</text><text transform="translate(1164.36 352.1) scale(0.53 1)" font-size="20.4" fill="#888888">6</text>
<text transform="translate(1185.57 352.1) scale(0.53 1)" font-size="20.4" fill="#888888">5</text><text transform="translate(1185.87 352.1) scale(0.53 1)" font-size="20.4" fill="#888888">5</text><text transform="translate(1192.46 352.1) scale(0.53 1)" font-size="20.4" fill="#888888">6</text><text transform="translate(1192.76 352.1) scale(0.53 1)" font-size="20.4" fill="#888888">6</text><rect x="1200.00" y="350.60" width="2.3" height="1.5" fill="#888888"/><text transform="translate(1203.57 352.1) scale(0.53 1)" font-size="20.4" fill="#888888">5</text><text transform="translate(1203.87 352.1) scale(0.53 1)" font-size="20.4" fill="#888888">5</text><text transform="translate(1210.57 352.1) scale(0.53 1)" font-size="20.4" fill="#888888">0</text><text transform="translate(1210.87 352.1) scale(0.53 1)" font-size="20.4" fill="#888888">0</text>
<text transform="translate(935.69 74) scale(0.53 1)" font-size="13.0" fill="#21DC9B">9</text><text transform="translate(935.99 74) scale(0.53 1)" font-size="13.0" fill="#21DC9B">9</text><text transform="translate(940.28 74) scale(0.53 1)" font-size="13.0" fill="#21DC9B">4</text><text transform="translate(940.58 74) scale(0.53 1)" font-size="13.0" fill="#21DC9B">4</text><text transform="translate(944.56 74) scale(0.53 1)" font-size="13.0" fill="#21DC9B">2</text><text transform="translate(944.86 74) scale(0.53 1)" font-size="13.0" fill="#21DC9B">2</text>
<text x="599.52" y="375" font-size="20.5" fill="#888888" textLength="40.83" lengthAdjust="spacingAndGlyphs" stroke="#888888" stroke-width="0.4">Price,</text>
<text x="643.81" y="375" font-size="20.5" fill="#888888" textLength="30.77" lengthAdjust="spacingAndGlyphs" stroke="#888888" stroke-width="0.4">USD</text>
<g transform="rotate(-90)"><text x="-305.21" y="1270" font-size="20.5" fill="#888888" textLength="58.39" lengthAdjust="spacingAndGlyphs" stroke="#888888" stroke-width="0.4">Number</text><text x="-242.28" y="1270" font-size="20.5" fill="#888888" textLength="14.16" lengthAdjust="spacingAndGlyphs" stroke="#888888" stroke-width="0.4">of</text><text x="-224.48" y="1270" font-size="20.5" fill="#888888" textLength="58.78" lengthAdjust="spacingAndGlyphs" stroke="#888888" stroke-width="0.4">services</text><text x="-160.65" y="1270" font-size="20.5" fill="#888888" textLength="62.02" lengthAdjust="spacingAndGlyphs" stroke="#888888" stroke-width="0.4">provided</text></g>
<line x1="32" y1="410.5" x2="1206" y2="410.5" stroke="#555" stroke-width="1" stroke-dasharray="2 2"/>
<line x1="32" y1="435.5" x2="1206" y2="435.5" stroke="#555" stroke-width="1" stroke-dasharray="2 2"/>
<line x1="32" y1="460.5" x2="1206" y2="460.5" stroke="#555" stroke-width="1" stroke-dasharray="2 2"/>
<line x1="32" y1="485.5" x2="1206" y2="485.5" stroke="#555" stroke-width="1" stroke-dasharray="2 2"/>
<line x1="32" y1="510.5" x2="1206" y2="510.5" stroke="#555" stroke-width="1" stroke-dasharray="2 2"/>
<line x1="32" y1="535.5" x2="1206" y2="535.5" stroke="#555" stroke-width="1" stroke-dasharray="2 2"/>
<line x1="32" y1="560.5" x2="1206" y2="560.5" stroke="#555" stroke-width="1" stroke-dasharray="2 2"/>
<line x1="32" y1="585.5" x2="1206" y2="585.5" stroke="#555" stroke-width="1" stroke-dasharray="2 2"/>
<line x1="32" y1="610.5" x2="1206" y2="610.5" stroke="#555" stroke-width="1" stroke-dasharray="2 2"/>
<line x1="32" y1="635.5" x2="1206" y2="635.5" stroke="#555" stroke-width="1" stroke-dasharray="2 2"/>
<path d="M1211.30 405.10H1212.40V414.1H1211.30ZM1209.40 406.50L1211.60 405.10V406.30L1209.40 407.70Z" fill="#888888"/><text transform="translate(1212.25 414.1) scale(0.9 1)" font-size="13.0" fill="#888888">,</text><text transform="translate(1212.55 414.1) scale(0.9 1)" font-size="13.0" fill="#888888">,</text><path d="M1216.40 405.10H1217.50V414.1H1216.40ZM1214.50 406.50L1216.70 405.10V406.30L1214.50 407.70Z" fill="#888888"/><text transform="translate(1217.82 414.1) scale(0.53 1)" font-size="13.0" fill="#888888">0</text><text transform="translate(1218.12 414.1) scale(0.53 1)" font-size="13.0" fill="#888888">0</text><text transform="translate(1222.27 414.1) scale(0.53 1)" font-size="13.0" fill="#888888">0</text><text transform="translate(1222.57 414.1) scale(0.53 1)" font-size="13.0" fill="#888888">0</text>
<text transform="translate(1209.09 439.1) scale(0.53 1)" font-size="13.0" fill="#888888">9</text><text transform="translate(1209.39 439.1) scale(0.53 1)" font-size="13.0" fill="#888888">9</text><text transform="translate(1213.54 439.1) scale(0.53 1)" font-size="13.0" fill="#888888">9</text><text transform="translate(1213.84 439.1) scale(0.53 1)" font-size="13.0" fill="#888888">9</text><text transform="translate(1218.02 439.1) scale(0.53 1)" font-size="13.0" fill="#888888">0</text><text transform="translate(1218.32 439.1) scale(0.53 1)" font-size="13.0" fill="#888888">0</text>
<text transform="translate(1209.09 464.1) scale(0.53 1)" font-size="13.0" fill="#888888">8</text><text transform="translate(1209.39 464.1) scale(0.53 1)" font-size="13.0" fill="#888888">8</text><text transform="translate(1213.54 464.1) scale(0.53 1)" font-size="13.0" fill="#888888">8</text><text transform="translate(1213.84 464.1) scale(0.53 1)" font-size="13.0" fill="#888888">8</text><text transform="translate(1218.02 464.1) scale(0.53 1)" font-size="13.0" fill="#888888">0</text><text transform="translate(1218.32 464.1) scale(0.53 1)" font-size="13.0" fill="#888888">0</text>
<text transform="translate(1209.06 489.1) scale(0.53 1)" font-size="13.0" fill="#888888">7</text><text transform="translate(1209.36 489.1) scale(0.53 1)" font-size="13.0" fill="#888888">7</text><text transform="translate(1213.51 489.1) scale(0.53 1)" font-size="13.0" fill="#888888">7</text><text transform="translate(1213.81 489.1) scale(0.53 1)" font-size="13.0" fill="#888888">7</text><text transform="translate(1218.02 489.1) scale(0.53 1)" font-size="13.0" fill="#888888">0</text><text transform="translate(1218.32 489.1) scale(0.53 1)" font-size="13.0" fill="#888888">0</text>
<text transform="translate(1209.06 514.1) scale(0.53 1)" font-size="13.0" fill="#888888">6</text><text transform="translate(1209.36 514.1) scale(0.53 1)" font-size="13.0" fill="#888888">6</text><text transform="translate(1213.51 514.1) scale(0.53 1)" font-size="13.0" fill="#888888">6</text><text transform="translate(1213.81 514.1) scale(0.53 1)" font-size="13.0" fill="#888888">6</text><text transform="translate(1218.02 514.1) scale(0.53 1)" font-size="13.0" fill="#888888">0</text><text transform="translate(1218.32 514.1) scale(0.53 1)" font-size="13.0" fill="#888888">0</text>
<text transform="translate(1209.12 539.1) scale(0.53 1)" font-size="13.0" fill="#888888">5</text><text transform="translate(1209.42 539.1) scale(0.53 1)" font-size="13.0" fill="#888888">5</text><text transform="translate(1213.57 539.1) scale(0.53 1)" font-size="13.0" fill="#888888">5</text><text transform="translate(1213.87 539.1) scale(0.53 1)" font-size="13.0" fill="#888888">5</text><text transform="translate(1218.02 539.1) scale(0.53 1)" font-size="13.0" fill="#888888">0</text><text transform="translate(1218.32 539.1) scale(0.53 1)" font-size="13.0" fill="#888888">0</text>
<text transform="translate(1209.23 564.1) scale(0.53 1)" font-size="13.0" fill="#888888">4</text><text transform="translate(1209.53 564.1) scale(0.53 1)" font-size="13.0" fill="#888888">4</text><text transform="translate(1213.68 564.1) scale(0.53 1)" font-size="13.0" fill="#888888">4</text><text transform="translate(1213.98 564.1) scale(0.53 1)" font-size="13.0" fill="#888888">4</text><text transform="translate(1218.02 564.1) scale(0.53 1)" font-size="13.0" fill="#888888">0</text><text transform="translate(1218.32 564.1) scale(0.53 1)" font-size="13.0" fill="#888888">0</text>
<text transform="translate(1209.12 589.1) scale(0.53 1)" font-size="13.0" fill="#888888">3</text><text transform="translate(1209.42 589.1) scale(0.53 1)" font-size="13.0" fill="#888888">3</text><text transform="translate(1213.57 589.1) scale(0.53 1)" font-size="13.0" fill="#888888">3</text><text transform="translate(1213.87 589.1) scale(0.53 1)" font-size="13.0" fill="#888888">3</text><text transform="translate(1218.02 589.1) scale(0.53 1)" font-size="13.0" fill="#888888">0</text><text transform="translate(1218.32 589.1) scale(0.53 1)" font-size="13.0" fill="#888888">0</text>
<text transform="translate(1209.06 614.1) scale(0.53 1)" font-size="13.0" fill="#888888">2</text><text transform="translate(1209.36 614.1) scale(0.53 1)" font-size="13.0" fill="#888888">2</text><text transform="translate(1213.51 614.1) scale(0.53 1)" font-size="13.0" fill="#888888">2</text><text transform="translate(1213.81 614.1) scale(0.53 1)" font-size="13.0" fill="#888888">2</text><text transform="translate(1218.02 614.1) scale(0.53 1)" font-size="13.0" fill="#888888">0</text><text transform="translate(1218.32 614.1) scale(0.53 1)" font-size="13.0" fill="#888888">0</text>
<path d="M1211.30 630.10H1212.40V639.1H1211.30ZM1209.40 631.50L1211.60 630.10V631.30L1209.40 632.70Z" fill="#888888"/><path d="M1214.60 630.10H1215.70V639.1H1214.60ZM1212.70 631.50L1214.90 630.10V631.30L1212.70 632.70Z" fill="#888888"/><text transform="translate(1216.02 639.1) scale(0.53 1)" font-size="13.0" fill="#888888">0</text><text transform="translate(1216.32 639.1) scale(0.53 1)" font-size="13.0" fill="#888888">0</text>
<rect x="29" y="660" width="1162" height="1" fill="#4a4a4a"/>
<rect x="29" y="661" width="1" height="4" fill="#8c8c8c"/>
<rect x="41" y="661" width="1" height="2" fill="#555"/>
<rect x="52" y="661" width="1" height="2" fill="#555"/>
<rect x="64" y="661" width="1" height="2" fill="#555"/>
<rect x="75" y="661" width="1" height="4" fill="#8c8c8c"/>
<rect x="87" y="661" width="1" height="2" fill="#555"/>
<rect x="99" y="661" width="1" height="2" fill="#555"/>
<rect x="110" y="661" width="1" height="2" fill="#555"/>
<rect x="122" y="661" width="1" height="4" fill="#8c8c8c"/>
<rect x="133" y="661" width="1" height="2" fill="#555"/>
<rect x="145" y="661" width="1" height="2" fill="#555"/>
<rect x="157" y="661" width="1" height="2" fill="#555"/>
<rect x="168" y="661" width="1" height="4" fill="#8c8c8c"/>
<rect x="180" y="661" width="1" height="2" fill="#555"/>
<rect x="191" y="661" width="1" height="2" fill="#555"/>
<rect x="203" y="661" width="1" height="2" fill="#555"/>
<rect x="215" y="661" width="1" height="4" fill="#8c8c8c"/>
<rect x="226" y="661" width="1" height="2" fill="#555"/>
<rect x="238" y="661" width="1" height="2" fill="#555"/>
<rect x="249" y="661" width="1" height="2" fill="#555"/>
<rect x="261" y="661" width="1" height="4" fill="#8c8c8c"/>
<rect x="273" y="661" width="1" height="2" fill="#555"/>
<rect x="284" y="661" width="1" height="2" fill="#555"/>
<rect x="296" y="661" width="1" height="2" fill="#555"/>
<rect x="307" y="661" width="1" height="4" fill="#8c8c8c"/>
<rect x="319" y="661" width="1" height="2" fill="#555"/>
<rect x="331" y="661" width="1" height="2" fill="#555"/>
<rect x="342" y="661" width="1" height="2" fill="#555"/>
<rect x="354" y="661" width="1" height="4" fill="#8c8c8c"/>
<rect x="365" y="661" width="1" height="2" fill="#555"/>
<rect x="377" y="661" width="1" height="2" fill="#555"/>
<rect x="389" y="661" width="1" height="2" fill="#555"/>
<rect x="400" y="661" width="1" height="4" fill="#8c8c8c"/>
<rect x="412" y="661" width="1" height="2" fill="#555"/>
<rect x="423" y="661" width="1" height="2" fill="#555"/>
<rect x="435" y="661" width="1" height="2" fill="#555"/>
<rect x="447" y="661" width="1" height="4" fill="#8c8c8c"/>
<rect x="458" y="661" width="1" height="2" fill="#555"/>
<rect x="470" y="661" width="1" height="2" fill="#555"/>
<rect x="481" y="661" width="1" height="2" fill="#555"/>
<rect x="493" y="661" width="1" height="4" fill="#8c8c8c"/>
<rect x="505" y="661" width="1" height="2" fill="#555"/>
<rect x="516" y="661" width="1" height="2" fill="#555"/>
<rect x="528" y="661" width="1" height="2" fill="#555"/>
<rect x="539" y="661" width="1" height="4" fill="#8c8c8c"/>
<rect x="551" y="661" width="1" height="2" fill="#555"/>
<rect x="563" y="661" width="1" height="2" fill="#555"/>
<rect x="574" y="661" width="1" height="2" fill="#555"/>
<rect x="586" y="661" width="1" height="4" fill="#8c8c8c"/>
<rect x="597" y="661" width="1" height="2" fill="#555"/>
<rect x="609" y="661" width="1" height="2" fill="#555"/>
<rect x="621" y="661" width="1" height="2" fill="#555"/>
<rect x="632" y="661" width="1" height="4" fill="#8c8c8c"/>
<rect x="644" y="661" width="1" height="2" fill="#555"/>
<rect x="655" y="661" width="1" height="2" fill="#555"/>
<rect x="667" y="661" width="1" height="2" fill="#555"/>
<rect x="679" y="661" width="1" height="4" fill="#8c8c8c"/>
<rect x="690" y="661" width="1" height="2" fill="#555"/>
<rect x="702" y="661" width="1" height="2" fill="#555"/>
<rect x="713" y="661" width="1" height="2" fill="#555"/>
<rect x="725" y="661" width="1" height="4" fill="#8c8c8c"/>
<rect x="737" y="661" width="1" height="2" fill="#555"/>
<rect x="748" y="661" width="1" height="2" fill="#555"/>
<rect x="760" y="661" width="1" height="2" fill="#555"/>
<rect x="771" y="661" width="1" height="4" fill="#8c8c8c"/>
<rect x="783" y="661" width="1" height="2" fill="#555"/>
<rect x="795" y="661" width="1" height="2" fill="#555"/>
<rect x="806" y="661" width="1" height="2" fill="#555"/>
<rect x="818" y="661" width="1" height="4" fill="#8c8c8c"/>
<rect x="829" y="661" width="1" height="2" fill="#555"/>
<rect x="841" y="661" width="1" height="2" fill="#555"/>
<rect x="853" y="661" width="1" height="2" fill="#555"/>
<rect x="864" y="661" width="1" height="4" fill="#8c8c8c"/>
<rect x="876" y="661" width="1" height="2" fill="#555"/>
<rect x="887" y="661" width="1" height="2" fill="#555"/>
<rect x="899" y="661" width="1" height="2" fill="#555"/>
<rect x="911" y="661" width="1" height="4" fill="#8c8c8c"/>
<rect x="922" y="661" width="1" height="2" fill="#555"/>
<rect x="934" y="661" width="1" height="2" fill="#555"/>
<rect x="945" y="661" width="1" height="2" fill="#555"/>
<rect x="957" y="661" width="1" height="4" fill="#8c8c8c"/>
<rect x="969" y="661" width="1" height="2" fill="#555"/>
<rect x="980" y="661" width="1" height="2" fill="#555"/>
<rect x="992" y="661" width="1" height="2" fill="#555"/>
<rect x="1003" y="661" width="1" height="4" fill="#8c8c8c"/>
<rect x="1015" y="661" width="1" height="2" fill="#555"/>
<rect x="1027" y="661" width="1" height="2" fill="#555"/>
<rect x="1038" y="661" width="1" height="2" fill="#555"/>
<rect x="1050" y="661" width="1" height="4" fill="#8c8c8c"/>
<rect x="1061" y="661" width="1" height="2" fill="#555"/>
<rect x="1073" y="661" width="1" height="2" fill="#555"/>
<rect x="1085" y="661" width="1" height="2" fill="#555"/>
<rect x="1096" y="661" width="1" height="4" fill="#8c8c8c"/>
<rect x="1108" y="661" width="1" height="2" fill="#555"/>
<rect x="1119" y="661" width="1" height="2" fill="#555"/>
<rect x="1131" y="661" width="1" height="2" fill="#555"/>
<rect x="1143" y="661" width="1" height="4" fill="#8c8c8c"/>
<rect x="1154" y="661" width="1" height="2" fill="#555"/>
<rect x="1166" y="661" width="1" height="2" fill="#555"/>
<rect x="1177" y="661" width="1" height="2" fill="#555"/>
<rect x="1189" y="661" width="1" height="4" fill="#8c8c8c"/>
<rect x="31" y="612" width="9" height="49" fill="#DC3442"/>
<rect x="43" y="631" width="8" height="30" fill="#DC3442"/>
<rect x="54" y="643" width="9" height="18" fill="#DC3442"/>
<rect x="66" y="595" width="8" height="66" fill="#DC3442"/>
<rect x="77" y="651" width="9" height="10" fill="#DC3442"/>
<rect x="89" y="653" width="9" height="8" fill="#DC3442"/>
<rect x="101" y="594" width="8" height="67" fill="#DC3442"/>
<rect x="112" y="577" width="9" height="84" fill="#DC3442"/>
<rect x="124" y="568" width="8" height="93" fill="#DC3442"/>
<rect x="135" y="489" width="9" height="172" fill="#DC3442"/>
<rect x="147" y="412" width="9" height="249" fill="#DC3442"/>
<rect x="159" y="521" width="8" height="140" fill="#DC3442"/>
<rect x="170" y="633" width="9" height="28" fill="#DC3442"/>
<rect x="182" y="493" width="8" height="168" fill="#DC3442"/>
<rect x="193" y="648" width="9" height="13" fill="#DC3442"/>
<rect x="205" y="596" width="9" height="65" fill="#DC3442"/>
<rect x="217" y="605" width="8" height="56" fill="#DC3442"/>
<rect x="228" y="571" width="9" height="90" fill="#DC3442"/>
<rect x="240" y="597" width="8" height="64" fill="#DC3442"/>
<rect x="251" y="646" width="9" height="15" fill="#DC3442"/>
<rect x="263" y="622" width="9" height="39" fill="#DC3442"/>
<rect x="275" y="658" width="8" height="3" fill="#DC3442"/>
<rect x="286" y="643" width="9" height="18" fill="#DC3442"/>
<rect x="298" y="635" width="8" height="26" fill="#DC3442"/>
<rect x="309" y="656" width="9" height="5" fill="#DC3442"/>
<rect x="333" y="644" width="8" height="17" fill="#DC3442"/>
<rect x="344" y="654" width="9" height="7" fill="#DC3442"/>
<rect x="414" y="658" width="8" height="3" fill="#DC3442"/>
<rect x="449" y="656" width="8" height="5" fill="#DC3442"/>
<rect x="460" y="635" width="9" height="26" fill="#DC3442"/>
<rect x="472" y="655" width="8" height="6" fill="#DC3442"/>
<rect x="541" y="653" width="9" height="8" fill="#DC3442"/>
<rect x="553" y="646" width="9" height="15" fill="#DC3442"/>
<rect x="576" y="653" width="9" height="8" fill="#DC3442"/>
<rect x="588" y="653" width="8" height="8" fill="#DC3442"/>
<rect x="599" y="647" width="9" height="14" fill="#DC3442"/>
<rect x="704" y="656" width="8" height="5" fill="#DC3442"/>
<rect x="739" y="655" width="8" height="6" fill="#DC3442"/>
<rect x="994" y="649" width="8" height="12" fill="#DC3442"/>
<rect x="1179" y="640" width="9" height="21" fill="#DC3442"/>
<text transform="translate(25.73 682.1) scale(0.53 1)" font-size="20.4" fill="#888888">4</text><text transform="translate(26.03 682.1) scale(0.53 1)" font-size="20.4" fill="#888888">4</text><text transform="translate(32.46 682.1) scale(0.53 1)" font-size="20.4" fill="#888888">2</text><text transform="translate(32.76 682.1) scale(0.53 1)" font-size="20.4" fill="#888888">2</text>
<text transform="translate(71.97 682.1) scale(0.53 1)" font-size="20.4" fill="#888888">5</text><text transform="translate(72.27 682.1) scale(0.53 1)" font-size="20.4" fill="#888888">5</text><text transform="translate(78.97 682.1) scale(0.53 1)" font-size="20.4" fill="#888888">0</text><text transform="translate(79.27 682.1) scale(0.53 1)" font-size="20.4" fill="#888888">0</text><rect x="86.40" y="680.60" width="2.3" height="1.5" fill="#888888"/><text transform="translate(90.13 682.1) scale(0.53 1)" font-size="20.4" fill="#888888">4</text><text transform="translate(90.43 682.1) scale(0.53 1)" font-size="20.4" fill="#888888">4</text><text transform="translate(96.97 682.1) scale(0.53 1)" font-size="20.4" fill="#888888">0</text><text transform="translate(97.27 682.1) scale(0.53 1)" font-size="20.4" fill="#888888">0</text>
<text transform="translate(118.37 682.1) scale(0.53 1)" font-size="20.4" fill="#888888">5</text><text transform="translate(118.67 682.1) scale(0.53 1)" font-size="20.4" fill="#888888">5</text><text transform="translate(125.31 682.1) scale(0.53 1)" font-size="20.4" fill="#888888">8</text><text transform="translate(125.61 682.1) scale(0.53 1)" font-size="20.4" fill="#888888">8</text><rect x="132.80" y="680.60" width="2.3" height="1.5" fill="#888888"/><text transform="translate(136.31 682.1) scale(0.53 1)" font-size="20.4" fill="#888888">8</text><text transform="translate(136.61 682.1) scale(0.53 1)" font-size="20.4" fill="#888888">8</text><text transform="translate(143.37 682.1) scale(0.53 1)" font-size="20.4" fill="#888888">0</text><text transform="translate(143.67 682.1) scale(0.53 1)" font-size="20.4" fill="#888888">0</text>
<text transform="translate(164.66 682.1) scale(0.53 1)" font-size="20.4" fill="#888888">6</text><text transform="translate(164.96 682.1) scale(0.53 1)" font-size="20.4" fill="#888888">6</text><text transform="translate(171.66 682.1) scale(0.53 1)" font-size="20.4" fill="#888888">7</text><text transform="translate(171.96 682.1) scale(0.53 1)" font-size="20.4" fill="#888888">7</text><rect x="179.20" y="680.60" width="2.3" height="1.5" fill="#888888"/><text transform="translate(182.66 682.1) scale(0.53 1)" font-size="20.4" fill="#888888">2</text><text transform="translate(182.96 682.1) scale(0.53 1)" font-size="20.4" fill="#888888">2</text><text transform="translate(189.77 682.1) scale(0.53 1)" font-size="20.4" fill="#888888">0</text><text transform="translate(190.07 682.1) scale(0.53 1)" font-size="20.4" fill="#888888">0</text>
<text transform="translate(211.06 682.1) scale(0.53 1)" font-size="20.4" fill="#888888">7</text><text transform="translate(211.36 682.1) scale(0.53 1)" font-size="20.4" fill="#888888">7</text><text transform="translate(218.17 682.1) scale(0.53 1)" font-size="20.4" fill="#888888">5</text><text transform="translate(218.47 682.1) scale(0.53 1)" font-size="20.4" fill="#888888">5</text><rect x="225.60" y="680.60" width="2.3" height="1.5" fill="#888888"/><text transform="translate(229.06 682.1) scale(0.53 1)" font-size="20.4" fill="#888888">6</text><text transform="translate(229.36 682.1) scale(0.53 1)" font-size="20.4" fill="#888888">6</text><text transform="translate(236.17 682.1) scale(0.53 1)" font-size="20.4" fill="#888888">0</text><text transform="translate(236.47 682.1) scale(0.53 1)" font-size="20.4" fill="#888888">0</text>
<text transform="translate(257.51 682.1) scale(0.53 1)" font-size="20.4" fill="#888888">8</text><text transform="translate(257.81 682.1) scale(0.53 1)" font-size="20.4" fill="#888888">8</text><text transform="translate(264.73 682.1) scale(0.53 1)" font-size="20.4" fill="#888888">4</text><text transform="translate(265.03 682.1) scale(0.53 1)" font-size="20.4" fill="#888888">4</text>
<text transform="translate(303.91 682.1) scale(0.53 1)" font-size="20.4" fill="#888888">9</text><text transform="translate(304.21 682.1) scale(0.53 1)" font-size="20.4" fill="#888888">9</text><text transform="translate(310.86 682.1) scale(0.53 1)" font-size="20.4" fill="#888888">2</text><text transform="translate(311.16 682.1) scale(0.53 1)" font-size="20.4" fill="#888888">2</text><rect x="318.40" y="680.60" width="2.3" height="1.5" fill="#888888"/><text transform="translate(322.13 682.1) scale(0.53 1)" font-size="20.4" fill="#888888">4</text><text transform="translate(322.43 682.1) scale(0.53 1)" font-size="20.4" fill="#888888">4</text><text transform="translate(328.97 682.1) scale(0.53 1)" font-size="20.4" fill="#888888">0</text><text transform="translate(329.27 682.1) scale(0.53 1)" font-size="20.4" fill="#888888">0</text>
<path d="M352.45 667.80H353.90V682.1H352.45ZM349.90 670.00L352.75 667.80V669.30L349.90 671.50Z" fill="#888888"/><text transform="translate(355.37 682.1) scale(0.53 1)" font-size="20.4" fill="#888888">0</text><text transform="translate(355.67 682.1) scale(0.53 1)" font-size="20.4" fill="#888888">0</text><text transform="translate(362.37 682.1) scale(0.53 1)" font-size="20.4" fill="#888888">0</text><text transform="translate(362.67 682.1) scale(0.53 1)" font-size="20.4" fill="#888888">0</text><rect x="369.80" y="680.60" width="2.3" height="1.5" fill="#888888"/><text transform="translate(373.31 682.1) scale(0.53 1)" font-size="20.4" fill="#888888">8</text><text transform="translate(373.61 682.1) scale(0.53 1)" font-size="20.4" fill="#888888">8</text>
<path d="M398.85 667.80H400.30V682.1H398.85ZM396.30 670.00L399.15 667.80V669.30L396.30 671.50Z" fill="#888888"/><text transform="translate(401.77 682.1) scale(0.53 1)" font-size="20.4" fill="#888888">0</text><text transform="translate(402.07 682.1) scale(0.53 1)" font-size="20.4" fill="#888888">0</text><text transform="translate(408.71 682.1) scale(0.53 1)" font-size="20.4" fill="#888888">9</text><text transform="translate(409.01 682.1) scale(0.53 1)" font-size="20.4" fill="#888888">9</text><rect x="416.20" y="680.60" width="2.3" height="1.5" fill="#888888"/><text transform="translate(419.66 682.1) scale(0.53 1)" font-size="20.4" fill="#888888">2</text><text transform="translate(419.96 682.1) scale(0.53 1)" font-size="20.4" fill="#888888">2</text>
<path d="M445.25 667.80H446.70V682.1H445.25ZM442.70 670.00L445.55 667.80V669.30L442.70 671.50Z" fill="#888888"/><path d="M450.25 667.80H451.70V682.1H450.25ZM447.70 670.00L450.55 667.80V669.30L447.70 671.50Z" fill="#888888"/><text transform="translate(453.06 682.1) scale(0.53 1)" font-size="20.4" fill="#888888">7</text><text transform="translate(453.36 682.1) scale(0.53 1)" font-size="20.4" fill="#888888">7</text><rect x="460.60" y="680.60" width="2.3" height="1.5" fill="#888888"/><text transform="translate(464.06 682.1) scale(0.53 1)" font-size="20.4" fill="#888888">6</text><text transform="translate(464.36 682.1) scale(0.53 1)" font-size="20.4" fill="#888888">6</text>
<path d="M491.65 667.80H493.10V682.1H491.65ZM489.10 670.00L491.95 667.80V669.30L489.10 671.50Z" fill="#888888"/><text transform="translate(494.46 682.1) scale(0.53 1)" font-size="20.4" fill="#888888">2</text><text transform="translate(494.76 682.1) scale(0.53 1)" font-size="20.4" fill="#888888">2</text><text transform="translate(501.46 682.1) scale(0.53 1)" font-size="20.4" fill="#888888">6</text><text transform="translate(501.76 682.1) scale(0.53 1)" font-size="20.4" fill="#888888">6</text>
<path d="M538.05 667.80H539.50V682.1H538.05ZM535.50 670.00L538.35 667.80V669.30L535.50 671.50Z" fill="#888888"/><text transform="translate(540.97 682.1) scale(0.53 1)" font-size="20.4" fill="#888888">3</text><text transform="translate(541.27 682.1) scale(0.53 1)" font-size="20.4" fill="#888888">3</text><text transform="translate(548.13 682.1) scale(0.53 1)" font-size="20.4" fill="#888888">4</text><text transform="translate(548.43 682.1) scale(0.53 1)" font-size="20.4" fill="#888888">4</text><rect x="555.40" y="680.60" width="2.3" height="1.5" fill="#888888"/><text transform="translate(559.13 682.1) scale(0.53 1)" font-size="20.4" fill="#888888">4</text><text transform="translate(559.43 682.1) scale(0.53 1)" font-size="20.4" fill="#888888">4</text>
<path d="M584.45 667.80H585.90V682.1H584.45ZM581.90 670.00L584.75 667.80V669.30L581.90 671.50Z" fill="#888888"/><text transform="translate(587.53 682.1) scale(0.53 1)" font-size="20.4" fill="#888888">4</text><text transform="translate(587.83 682.1) scale(0.53 1)" font-size="20.4" fill="#888888">4</text><text transform="translate(594.26 682.1) scale(0.53 1)" font-size="20.4" fill="#888888">2</text><text transform="translate(594.56 682.1) scale(0.53 1)" font-size="20.4" fill="#888888">2</text><rect x="601.80" y="680.60" width="2.3" height="1.5" fill="#888888"/><text transform="translate(605.31 682.1) scale(0.53 1)" font-size="20.4" fill="#888888">8</text><text transform="translate(605.61 682.1) scale(0.53 1)" font-size="20.4" fill="#888888">8</text>
<path d="M630.85 667.80H632.30V682.1H630.85ZM628.30 670.00L631.15 667.80V669.30L628.30 671.50Z" fill="#888888"/><text transform="translate(633.77 682.1) scale(0.53 1)" font-size="20.4" fill="#888888">5</text><text transform="translate(634.07 682.1) scale(0.53 1)" font-size="20.4" fill="#888888">5</text><path d="M642.85 667.80H644.30V682.1H642.85ZM640.30 670.00L643.15 667.80V669.30L640.30 671.50Z" fill="#888888"/><rect x="646.20" y="680.60" width="2.3" height="1.5" fill="#888888"/><text transform="translate(649.66 682.1) scale(0.53 1)" font-size="20.4" fill="#888888">2</text><text transform="translate(649.96 682.1) scale(0.53 1)" font-size="20.4" fill="#888888">2</text>
<path d="M677.25 667.80H678.70V682.1H677.25ZM674.70 670.00L677.55 667.80V669.30L674.70 671.50Z" fill="#888888"/><text transform="translate(680.17 682.1) scale(0.53 1)" font-size="20.4" fill="#888888">5</text><text transform="translate(680.47 682.1) scale(0.53 1)" font-size="20.4" fill="#888888">5</text><text transform="translate(687.11 682.1) scale(0.53 1)" font-size="20.4" fill="#888888">9</text><text transform="translate(687.41 682.1) scale(0.53 1)" font-size="20.4" fill="#888888">9</text><rect x="694.60" y="680.60" width="2.3" height="1.5" fill="#888888"/><text transform="translate(698.06 682.1) scale(0.53 1)" font-size="20.4" fill="#888888">6</text><text transform="translate(698.36 682.1) scale(0.53 1)" font-size="20.4" fill="#888888">6</text>
<path d="M723.65 667.80H725.10V682.1H723.65ZM721.10 670.00L723.95 667.80V669.30L721.10 671.50Z" fill="#888888"/><text transform="translate(726.46 682.1) scale(0.53 1)" font-size="20.4" fill="#888888">6</text><text transform="translate(726.76 682.1) scale(0.53 1)" font-size="20.4" fill="#888888">6</text><text transform="translate(733.51 682.1) scale(0.53 1)" font-size="20.4" fill="#888888">8</text><text transform="translate(733.81 682.1) scale(0.53 1)" font-size="20.4" fill="#888888">8</text>
<path d="M770.05 667.80H771.50V682.1H770.05ZM767.50 670.00L770.35 667.80V669.30L767.50 671.50Z" fill="#888888"/><text transform="translate(772.86 682.1) scale(0.53 1)" font-size="20.4" fill="#888888">7</text><text transform="translate(773.16 682.1) scale(0.53 1)" font-size="20.4" fill="#888888">7</text><text transform="translate(779.86 682.1) scale(0.53 1)" font-size="20.4" fill="#888888">6</text><text transform="translate(780.16 682.1) scale(0.53 1)" font-size="20.4" fill="#888888">6</text><rect x="787.40" y="680.60" width="2.3" height="1.5" fill="#888888"/><text transform="translate(791.13 682.1) scale(0.53 1)" font-size="20.4" fill="#888888">4</text><text transform="translate(791.43 682.1) scale(0.53 1)" font-size="20.4" fill="#888888">4</text>
<path d="M816.45 667.80H817.90V682.1H816.45ZM813.90 670.00L816.75 667.80V669.30L813.90 671.50Z" fill="#888888"/><text transform="translate(819.31 682.1) scale(0.53 1)" font-size="20.4" fill="#888888">8</text><text transform="translate(819.61 682.1) scale(0.53 1)" font-size="20.4" fill="#888888">8</text><text transform="translate(826.53 682.1) scale(0.53 1)" font-size="20.4" fill="#888888">4</text><text transform="translate(826.83 682.1) scale(0.53 1)" font-size="20.4" fill="#888888">4</text><rect x="833.80" y="680.60" width="2.3" height="1.5" fill="#888888"/><text transform="translate(837.31 682.1) scale(0.53 1)" font-size="20.4" fill="#888888">8</text><text transform="translate(837.61 682.1) scale(0.53 1)" font-size="20.4" fill="#888888">8</text>
<path d="M862.85 667.80H864.30V682.1H862.85ZM860.30 670.00L863.15 667.80V669.30L860.30 671.50Z" fill="#888888"/><text transform="translate(865.71 682.1) scale(0.53 1)" font-size="20.4" fill="#888888">9</text><text transform="translate(866.01 682.1) scale(0.53 1)" font-size="20.4" fill="#888888">9</text><text transform="translate(872.77 682.1) scale(0.53 1)" font-size="20.4" fill="#888888">3</text><text transform="translate(873.07 682.1) scale(0.53 1)" font-size="20.4" fill="#888888">3</text><rect x="880.20" y="680.60" width="2.3" height="1.5" fill="#888888"/><text transform="translate(883.66 682.1) scale(0.53 1)" font-size="20.4" fill="#888888">2</text><text transform="translate(883.96 682.1) scale(0.53 1)" font-size="20.4" fill="#888888">2</text>
<text transform="translate(907.06 682.1) scale(0.53 1)" font-size="20.4" fill="#888888">2</text><text transform="translate(907.36 682.1) scale(0.53 1)" font-size="20.4" fill="#888888">2</text><text transform="translate(914.17 682.1) scale(0.53 1)" font-size="20.4" fill="#888888">0</text><text transform="translate(914.47 682.1) scale(0.53 1)" font-size="20.4" fill="#888888">0</text><path d="M923.25 667.80H924.70V682.1H923.25ZM920.70 670.00L923.55 667.80V669.30L920.70 671.50Z" fill="#888888"/><rect x="926.60" y="680.60" width="2.3" height="1.5" fill="#888888"/><text transform="translate(930.06 682.1) scale(0.53 1)" font-size="20.4" fill="#888888">6</text><text transform="translate(930.36 682.1) scale(0.53 1)" font-size="20.4" fill="#888888">6</text>
<text transform="translate(953.46 682.1) scale(0.53 1)" font-size="20.4" fill="#888888">2</text><text transform="translate(953.76 682.1) scale(0.53 1)" font-size="20.4" fill="#888888">2</text><path d="M962.65 667.80H964.10V682.1H962.65ZM960.10 670.00L962.95 667.80V669.30L960.10 671.50Z" fill="#888888"/><text transform="translate(965.57 682.1) scale(0.53 1)" font-size="20.4" fill="#888888">0</text><text transform="translate(965.87 682.1) scale(0.53 1)" font-size="20.4" fill="#888888">0</text>
<text transform="translate(999.86 682.1) scale(0.53 1)" font-size="20.4" fill="#888888">2</text><text transform="translate(1000.16 682.1) scale(0.53 1)" font-size="20.4" fill="#888888">2</text><path d="M1009.05 667.80H1010.50V682.1H1009.05ZM1006.50 670.00L1009.35 667.80V669.30L1006.50 671.50Z" fill="#888888"/><text transform="translate(1011.91 682.1) scale(0.53 1)" font-size="20.4" fill="#888888">8</text><text transform="translate(1012.21 682.1) scale(0.53 1)" font-size="20.4" fill="#888888">8</text><rect x="1019.40" y="680.60" width="2.3" height="1.5" fill="#888888"/><text transform="translate(1023.13 682.1) scale(0.53 1)" font-size="20.4" fill="#888888">4</text><text transform="translate(1023.43 682.1) scale(0.53 1)" font-size="20.4" fill="#888888">4</text>
<text transform="translate(1046.26 682.1) scale(0.53 1)" font-size="20.4" fill="#888888">2</text><text transform="translate(1046.56 682.1) scale(0.53 1)" font-size="20.4" fill="#888888">2</text><text transform="translate(1053.26 682.1) scale(0.53 1)" font-size="20.4" fill="#888888">2</text><text transform="translate(1053.56 682.1) scale(0.53 1)" font-size="20.4" fill="#888888">2</text><text transform="translate(1060.26 682.1) scale(0.53 1)" font-size="20.4" fill="#888888">6</text><text transform="translate(1060.56 682.1) scale(0.53 1)" font-size="20.4" fill="#888888">6</text><rect x="1067.80" y="680.60" width="2.3" height="1.5" fill="#888888"/><text transform="translate(1071.31 682.1) scale(0.53 1)" font-size="20.4" fill="#888888">8</text><text transform="translate(1071.61 682.1) scale(0.53 1)" font-size="20.4" fill="#888888">8</text>
<text transform="translate(1092.66 682.1) scale(0.53 1)" font-size="20.4" fill="#888888">2</text><text transform="translate(1092.96 682.1) scale(0.53 1)" font-size="20.4" fill="#888888">2</text><text transform="translate(1099.77 682.1) scale(0.53 1)" font-size="20.4" fill="#888888">3</text><text transform="translate(1100.07 682.1) scale(0.53 1)" font-size="20.4" fill="#888888">3</text><text transform="translate(1106.77 682.1) scale(0.53 1)" font-size="20.4" fill="#888888">5</text><text transform="translate(1107.07 682.1) scale(0.53 1)" font-size="20.4" fill="#888888">5</text><rect x="1114.20" y="680.60" width="2.3" height="1.5" fill="#888888"/><text transform="translate(1117.66 682.1) scale(0.53 1)" font-size="20.4" fill="#888888">2</text><text transform="translate(1117.96 682.1) scale(0.53 1)" font-size="20.4" fill="#888888">2</text>
<text transform="translate(1139.06 682.1) scale(0.53 1)" font-size="20.4" fill="#888888">2</text><text transform="translate(1139.36 682.1) scale(0.53 1)" font-size="20.4" fill="#888888">2</text><text transform="translate(1146.33 682.1) scale(0.53 1)" font-size="20.4" fill="#888888">4</text><text transform="translate(1146.63 682.1) scale(0.53 1)" font-size="20.4" fill="#888888">4</text><text transform="translate(1153.17 682.1) scale(0.53 1)" font-size="20.4" fill="#888888">3</text><text transform="translate(1153.47 682.1) scale(0.53 1)" font-size="20.4" fill="#888888">3</text><rect x="1160.60" y="680.60" width="2.3" height="1.5" fill="#888888"/><text transform="translate(1164.06 682.1) scale(0.53 1)" font-size="20.4" fill="#888888">6</text><text transform="translate(1164.36 682.1) scale(0.53 1)" font-size="20.4" fill="#888888">6</text>
<text transform="translate(1185.46 682.1) scale(0.53 1)" font-size="20.4" fill="#888888">2</text><text transform="translate(1185.76 682.1) scale(0.53 1)" font-size="20.4" fill="#888888">2</text><text transform="translate(1192.57 682.1) scale(0.53 1)" font-size="20.4" fill="#888888">5</text><text transform="translate(1192.87 682.1) scale(0.53 1)" font-size="20.4" fill="#888888">5</text><text transform="translate(1199.46 682.1) scale(0.53 1)" font-size="20.4" fill="#888888">2</text><text transform="translate(1199.76 682.1) scale(0.53 1)" font-size="20.4" fill="#888888">2</text>
<path d="M148.90 393.90H150.00V403H148.90ZM147.00 395.30L149.20 393.90V395.10L147.00 396.50Z" fill="#DC3442"/><text transform="translate(150.05 403) scale(0.9 1)" font-size="13.0" fill="#DC3442">,</text><text transform="translate(150.35 403) scale(0.9 1)" font-size="13.0" fill="#DC3442">,</text><text transform="translate(152.12 403) scale(0.53 1)" font-size="13.0" fill="#DC3442">0</text><text transform="translate(152.42 403) scale(0.53 1)" font-size="13.0" fill="#DC3442">0</text><text transform="translate(156.99 403) scale(0.53 1)" font-size="13.0" fill="#DC3442">9</text><text transform="translate(157.29 403) scale(0.53 1)" font-size="13.0" fill="#DC3442">9</text><text transform="translate(161.86 403) scale(0.53 1)" font-size="13.0" fill="#DC3442">2</text><text transform="translate(162.16 403) scale(0.53 1)" font-size="13.0" fill="#DC3442">2</text>
<text x="599.52" y="705" font-size="20.5" fill="#888888" textLength="40.83" lengthAdjust="spacingAndGlyphs" stroke="#888888" stroke-width="0.4">Price,</text>
<text x="643.81" y="705" font-size="20.5" fill="#888888" textLength="30.77" lengthAdjust="spacingAndGlyphs" stroke="#888888" stroke-width="0.4">USD</text>
<g transform="rotate(-90)"><text x="-635.21" y="1270" font-size="20.5" fill="#888888" textLength="58.39" lengthAdjust="spacingAndGlyphs" stroke="#888888" stroke-width="0.4">Number</text><text x="-572.28" y="1270" font-size="20.5" fill="#888888" textLength="14.16" lengthAdjust="spacingAndGlyphs" stroke="#888888" stroke-width="0.4">of</text><text x="-554.48" y="1270" font-size="20.5" fill="#888888" textLength="58.78" lengthAdjust="spacingAndGlyphs" stroke="#888888" stroke-width="0.4">services</text><text x="-490.65" y="1270" font-size="20.5" fill="#888888" textLength="62.02" lengthAdjust="spacingAndGlyphs" stroke="#888888" stroke-width="0.4">provided</text></g>
<rect x="20" y="710" width="41" height="21" fill="#21DC9B"/>
<rect x="73" y="716" width="10.2" height="2" fill="#21DC9B"/><rect x="73" y="722.1" width="10.2" height="2" fill="#21DC9B"/><text x="91.67" y="730" font-size="30" fill="#21DC9B" textLength="56.77" lengthAdjust="spacingAndGlyphs" stroke="#21DC9B" stroke-width="0.35">price</text><text x="154.66" y="730" font-size="30" fill="#21DC9B" textLength="49.90" lengthAdjust="spacingAndGlyphs" stroke="#21DC9B" stroke-width="0.35">paid</text>
<rect x="250" y="710" width="41" height="21" fill="#DC3442"/>
<rect x="302.8" y="716" width="10.4" height="2" fill="#DC3442"/><rect x="302.8" y="722.1" width="10.4" height="2" fill="#DC3442"/><text x="321.68" y="730" font-size="30" fill="#DC3442" textLength="56.45" lengthAdjust="spacingAndGlyphs" stroke="#DC3442" stroke-width="0.35">price</text><text x="385.20" y="730" font-size="30" fill="#DC3442" textLength="114.34" lengthAdjust="spacingAndGlyphs" stroke="#DC3442" stroke-width="0.35">requested</text>
<text x="979.89" y="735.2" font-size="42" fill="#444444" textLength="308.29" lengthAdjust="spacingAndGlyphs" stroke="#444444" stroke-width="0.6">HealthcareCost.info</text>
</svg>
</body></html>
